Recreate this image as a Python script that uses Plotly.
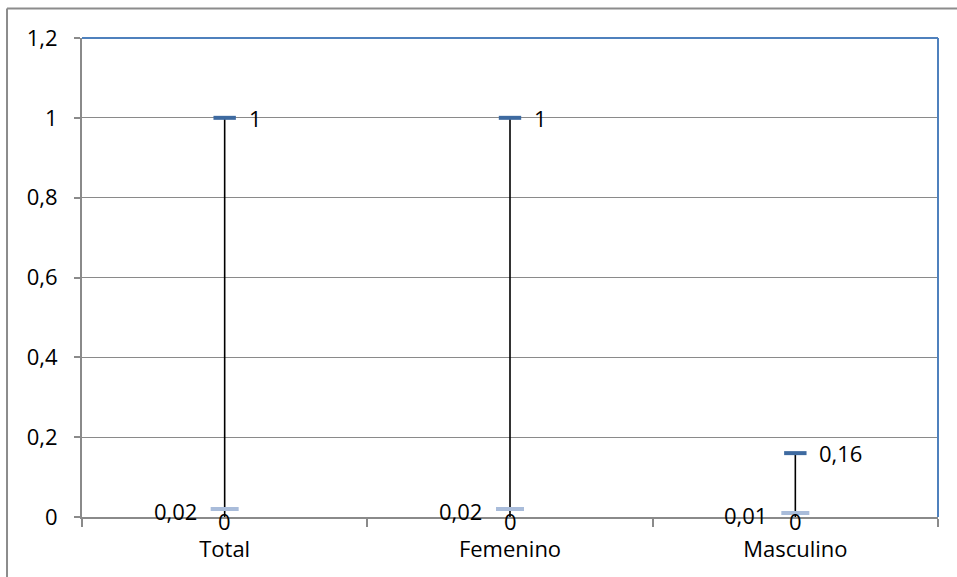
import plotly.graph_objects as go

# Stock-style high / low / close values per group
categories = ["Total", "Femenino", "Masculino"]
high_vals = [1, 1, 0.16]
low_vals = [0, 0, 0]
close_vals = [0.02, 0.02, 0.01]
y_ticks = [0, 0.2, 0.4, 0.6, 0.8, 1, 1.2]

FONT = "Open Sans"
FS = 22
GRID = "#8a8a8a"
BLUE_BORDER = "#4f81bd"
HIGH_COLOR = "#3e6aa0"
CLOSE_COLOR = "#a9bcda"


def fmt(v):
    s = f"{v:g}"
    return s.replace(".", ",")


fig = go.Figure()

# high-low vertical bars
seg_x, seg_y = [], []
for c, h, l in zip(categories, high_vals, low_vals):
    seg_x += [c, c, None]
    seg_y += [l, h, None]
fig.add_trace(go.Scatter(x=seg_x, y=seg_y, mode="lines",
                         line=dict(color="black", width=1.6),
                         hoverinfo="skip", showlegend=False))

# close tick
fig.add_trace(go.Scatter(x=categories, y=close_vals, mode="markers",
                         marker=dict(symbol="line-ew", size=20,
                                     line=dict(color=CLOSE_COLOR, width=4)),
                         showlegend=False))
# high tick
fig.add_trace(go.Scatter(x=categories, y=high_vals, mode="markers",
                         marker=dict(symbol="line-ew", size=16,
                                     line=dict(color=HIGH_COLOR, width=4)),
                         showlegend=False))

annotations = []
for c, h, l, cl in zip(categories, high_vals, low_vals, close_vals):
    annotations.append(dict(x=c, y=h, text=fmt(h), showarrow=False,
                            xanchor="left", yanchor="middle", xshift=22))
    annotations.append(dict(x=c, y=cl, text=fmt(cl), showarrow=False,
                            xanchor="right", yanchor="middle", xshift=-26, yshift=-2))
    annotations.append(dict(x=c, y=l, text=fmt(l), showarrow=False,
                            xanchor="center", yanchor="middle", yshift=-4))
for a in annotations:
    a["font"] = dict(family=FONT, size=FS, color="black")

# outer chart frame (left/top visible) and blue plot-area border (top/right)
shapes = [
    dict(type="line", xref="paper", yref="paper", x0=-0.0876, x1=1.3,
         y0=1.0616, y1=1.0616, line=dict(color="#8c8c8c", width=2)),
    dict(type="line", xref="paper", yref="paper", x0=-0.0876, x1=-0.0876,
         y0=-0.3, y1=1.0616, line=dict(color="#8c8c8c", width=2)),
    dict(type="line", xref="paper", yref="paper", x0=0, x1=1,
         y0=1, y1=1, line=dict(color=BLUE_BORDER, width=2)),
    dict(type="line", xref="paper", yref="paper", x0=1, x1=1,
         y0=0, y1=1, line=dict(color=BLUE_BORDER, width=2)),
]

fig.update_layout(
    width=957, height=577,
    margin=dict(l=82, r=19, t=38, b=60),
    paper_bgcolor="white", plot_bgcolor="white",
    separators=",.",
    font=dict(family=FONT, size=FS, color="black"),
    annotations=annotations,
    shapes=shapes,
    showlegend=False,
)
fig.update_xaxes(type="category", categoryorder="array", categoryarray=categories,
                 range=[-0.5, 2.5], showgrid=False, showline=True,
                 linecolor=GRID, linewidth=2, ticks="outside", tickson="boundaries",
                 ticklen=8, tickcolor=GRID, tickwidth=1.5, ticklabelstandoff=12,
                 tickfont=dict(family=FONT, size=FS), zeroline=False)
fig.update_yaxes(range=[0, 1.2], tickvals=y_ticks, showgrid=True, gridcolor=GRID,
                 gridwidth=1, showline=True, linecolor=GRID, linewidth=2,
                 ticks="outside", ticklen=6, tickcolor=GRID, tickwidth=1.5,
                 ticklabelstandoff=12, zeroline=False,
                 tickfont=dict(family=FONT, size=FS))

fig.write_html("out.html")
